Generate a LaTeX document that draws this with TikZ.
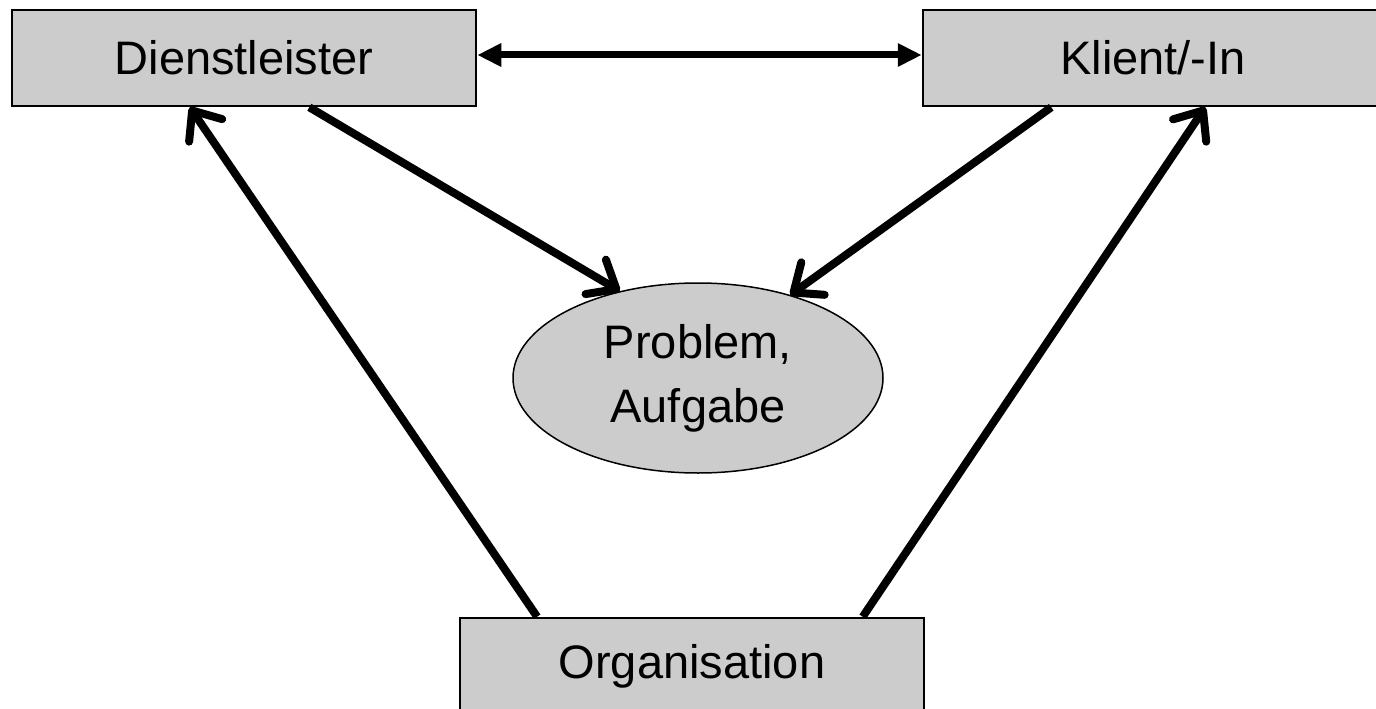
\documentclass[tikz,border=0pt]{standalone}
\usepackage{fontspec}
\setmainfont{Liberation Sans}
\usetikzlibrary{arrows.meta,shapes.geometric,calc}
\definecolor{boxgray}{HTML}{CCCCCC}
\begin{document}
\begin{tikzpicture}[x=1pt,y=-1pt,
  box/.style={draw=black,line width=2.5pt,fill=boxgray,rectangle,inner sep=0pt,
    minimum height=96pt,font=\fontsize{47}{56}\selectfont},
  probnode/.style={draw=black,line width=1.5pt,fill=boxgray,ellipse,inner sep=0pt,
    minimum width=370pt,minimum height=190pt,align=center,
    font=\fontsize{47}{64}\selectfont},
  arr/.style={line width=8pt,-{Straight Barb[length=24pt,width=40pt,line cap=round,line join=round]}},
  dbl/.style={line width=7pt,{Triangle[length=24pt,width=22pt]}-{Triangle[length=24pt,width=22pt]}}
]
\useasboundingbox (0,0) rectangle (1376,709);
\node[box,minimum width=464pt] (dl) at (244,58) {Dienstleister};
\node[box,minimum width=460pt] (kl) at (1153,58) {Klient/-In};
\node[box,minimum width=464pt] (org) at (692,666) {Organisation};
\node[probnode] (prob) at (698,378) {Problem,\\Aufgabe};

\draw[dbl] ($(dl.east)+(0,-3)$) -- ($(kl.west)+(0,-3)$);
\draw[arr] ($(dl.south west)!0.64!(dl.south east)$) -- (prob.132);
\draw[arr] ($(kl.south west)!0.28!(kl.south east)$) -- (prob.42);
\draw[arr] ($(org.north west)!0.168!(org.north east)$) -- ($(dl.south west)!0.384!(dl.south east)$);
\draw[arr] ($(org.north west)!0.866!(org.north east)$) -- ($(kl.south west)!0.613!(kl.south east)$);
\end{tikzpicture}
\end{document}
